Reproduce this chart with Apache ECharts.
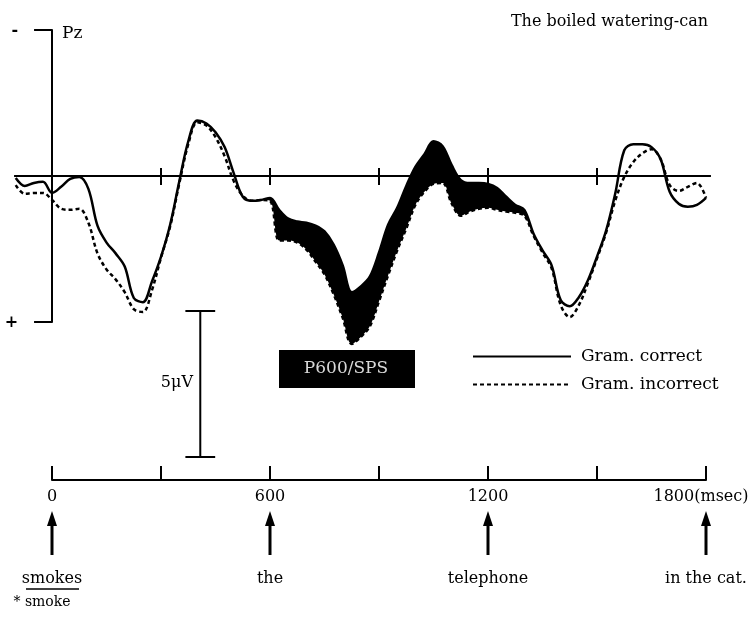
<!DOCTYPE html>
<html><head><meta charset="utf-8">
<script src="https://cdn.jsdelivr.net/npm/echarts@6/dist/echarts.min.js"></script>
<style>html,body{margin:0;padding:0;background:#fff}#c{width:753px;height:617px}</style>
</head><body><div id="c"></div>
<script>
// time points (ms)
const times = [-100,-75,-50,-25,0,25,50,75,100,125,150,175,200,225,250,275,300,325,350,375,400,425,450,475,500,525,550,575,600,625,650,675,700,725,750,775,800,825,850,875,900,925,950,975,1000,1025,1050,1075,1100,1125,1150,1175,1200,1225,1250,1275,1300,1325,1350,1375,1400,1425,1450,1475,1500,1525,1550,1575,1600,1625,1650,1675,1700,1725,1750,1775,1800];
// ERP amplitude (µV, negative up)
const correct = [0.07,0.34,0.24,0.2,0.58,0.37,0.1,0.03,0.44,1.7,2.28,2.65,3.1,4.18,4.32,3.61,2.76,1.67,0.2,-1.19,-1.9,-1.8,-1.5,-0.99,-0.1,0.71,0.85,0.82,0.75,1.16,1.46,1.56,1.6,1.7,1.9,2.35,3.06,3.98,3.78,3.44,2.62,1.67,1.09,0.34,-0.31,-0.75,-1.19,-1.02,-0.37,0.14,0.24,0.24,0.27,0.41,0.71,0.99,1.16,1.97,2.55,3.06,4.25,4.46,4.15,3.57,2.76,1.87,0.61,-0.88,-1.09,-1.09,-0.99,-0.58,0.54,0.95,1.05,0.99,0.75];
const incorrect = [0.31,0.61,0.58,0.58,0.82,1.12,1.16,1.12,1.6,2.65,3.2,3.54,3.98,4.56,4.66,3.91,2.79,1.73,0.27,-1.09,-1.84,-1.73,-1.33,-0.68,0.17,0.68,0.85,0.82,0.85,2.21,2.21,2.28,2.52,2.93,3.37,4.05,4.86,5.75,5.51,5.14,4.29,3.4,2.55,1.8,0.99,0.54,0.27,0.24,0.95,1.36,1.22,1.12,1.09,1.16,1.22,1.26,1.36,2.04,2.62,3.16,4.42,4.83,4.42,3.67,2.82,1.94,0.85,0.03,-0.48,-0.78,-0.92,-0.58,0.31,0.51,0.37,0.24,0.75];
// P600/SPS shaded effect window (ms)
const effectWindow = [525, 1325];
// time axis ticks and labels
const baselineTicks = [300,600,900,1200,1500];
const timeLabels = [0,600,1200,1800];
// amplitude axis end marks
const ampMarks = [-5, 5];
const ampMarkLabels = ['-', '+'];
// word onsets
const wordOnsets = [0,600,1200,1800];
const words = ['smokes','the','telephone','in the cat.'];
const wordsAlt = ['* smoke','','',''];
// amplitude scale bar (µV)
const scaleBarValue = 5;
const scaleBarStart = 4.62;
const scaleBarTime = 408;
const scaleBarCap = 41;

const FONT = "'DejaVu Serif','Liberation Serif',serif";

const corrData = times.map((t,i)=>[t, correct[i]]);
const incData = times.map((t,i)=>[t, incorrect[i]]);
// stacked fill (value first so that stacking happens on the amplitude dimension)
const fillBase = [], fillDiff = [];
times.forEach((t,i)=>{
  if (t >= effectWindow[0] && t <= effectWindow[1]) {
    fillBase.push([correct[i], t]);
    fillDiff.push([Math.max(0, incorrect[i]-correct[i]), t]);
  }
});
const sb0 = scaleBarStart, sb1 = scaleBarStart + scaleBarValue;
const scaleBarData = [
  [scaleBarTime-scaleBarCap, sb0],[scaleBarTime+scaleBarCap, sb0],[scaleBarTime, sb0],
  [scaleBarTime, sb1],[scaleBarTime-scaleBarCap, sb1],[scaleBarTime+scaleBarCap, sb1]
];

const chart = echarts.init(document.getElementById('c'), null, {renderer:'canvas'});
const SM = 0.35;
chart.setOption({
  animation: false,
  backgroundColor: '#fff',
  title: {
    text: 'The boiled watering-can', right: 40, top: 9,
    textStyle: {fontFamily: FONT, fontSize: 16, fontWeight: 'normal', color: '#000'}
  },
  legend: {
    data: ['Gram. correct','Gram. incorrect'],
    orient: 'vertical', left: 467, top: 343,
    itemWidth: 98, itemHeight: 14, itemGap: 11, selectedMode: false,
    itemStyle: {color: 'rgba(0,0,0,0)', borderWidth: 0, opacity: 0},
    textStyle: {fontFamily: FONT, fontSize: 17, color: '#000', padding: [0,0,0,5]}
  },
  grid: [
    {left: 15, right: 43, top: 30, height: 292, outerBoundsMode: 'none'},
    {left: 52, right: 47, top: 470, height: 10, outerBoundsMode: 'none'}
  ],
  xAxis: [
    {type:'value', gridIndex:0, min:-102, max:1811,
     axisLine:{onZero:true, lineStyle:{color:'#000', width:2}},
     axisTick:{show:true, customValues: baselineTicks, length:9, lineStyle:{color:'#000', width:2}},
     axisLabel:{show:false}, splitLine:{show:false}},
    {type:'value', gridIndex:0, position:'top', min:-102, max:1811,
     axisLine:{onZero:true, onZeroAxisIndex:1, lineStyle:{color:'#000', width:2}},
     axisTick:{show:true, customValues: baselineTicks, length:8, lineStyle:{color:'#000', width:2}},
     axisLabel:{show:false}, splitLine:{show:false}},
    {type:'value', gridIndex:1, min:0, max:1800, interval:300,
     axisLine:{lineStyle:{color:'#000', width:2}},
     axisTick:{inside:true, length:14, lineStyle:{color:'#000', width:2}},
     axisLabel:{customValues: timeLabels, margin:9, fontFamily:FONT, fontSize:16, color:'#000',
       formatter: v => v === 1800 ? '{u|1800(msec)}' : String(v),
       rich:{u:{fontFamily:FONT, fontSize:16, color:'#000', padding:[0,10,0,0]}}},
     splitLine:{show:false}}
  ],
  yAxis: [
    {type:'value', gridIndex:0, min:-5, max:5, inverse:true,
     axisLine:{show:true, onZero:true, lineStyle:{color:'#000', width:2}},
     axisTick:{show:true, customValues: ampMarks, length:18, lineStyle:{color:'#000', width:2}},
     axisLabel:{show:false},
     splitLine:{show:false}},
    {type:'value', gridIndex:0, min:-5, max:5, inverse:true, show:false},
    {type:'value', gridIndex:1, min:0, max:1, show:false}
  ],
  graphic: [
    {type:'text', x: 62, y: 34, style:{text:'Pz', font:'17px ' + FONT, fill:'#000', verticalAlign:'middle'}},
    {type:'text', x: 193, y: 383, style:{text:'5μV', font:'16px ' + FONT, fill:'#000', align:'right', verticalAlign:'middle'}},
    {type:'rect', x: 279, y: 350, shape:{width:136, height:38}, style:{fill:'#000'}},
    {type:'text', x: 346, y: 369, style:{text:'P600/SPS', font:'17px ' + FONT, fill:'#d8d8d8', align:'center', verticalAlign:'middle'}}
  ],
  series: [
    {name:'fillBase', type:'line', xAxisIndex:0, yAxisIndex:0, data: fillBase, encode:{x:1, y:0},
     stack:'eff', stackStrategy:'all',
     smooth:SM, symbol:'none', lineStyle:{opacity:0}, silent:true, clip:false, z:1},
    {name:'fillDiff', type:'line', xAxisIndex:0, yAxisIndex:0, data: fillDiff, encode:{x:1, y:0},
     stack:'eff', stackStrategy:'all',
     smooth:SM, symbol:'none', lineStyle:{opacity:0}, areaStyle:{color:'#000', opacity:1}, silent:true, clip:false, z:1},
    {name:'Gram. correct', type:'line', xAxisIndex:0, yAxisIndex:0, data: corrData,
     smooth:SM, symbol:'none', clip:false, z:3,
     lineStyle:{color:'#000', width:2.5}, itemStyle:{color:'#000'}},
    {name:'Gram. incorrect', type:'line', xAxisIndex:0, yAxisIndex:0, data: incData,
     smooth:SM, symbol:'none', clip:false, z:3,
     lineStyle:{color:'#000', width:2.5, type:[4,3]}, itemStyle:{color:'#000'}},
    {name:'scaleBar', type:'line', xAxisIndex:0, yAxisIndex:0, data: scaleBarData,
     symbol:'none', clip:false, silent:true, lineStyle:{color:'#000', width:2}},
    {name:'ampMarks', type:'custom', xAxisIndex:0, yAxisIndex:0, clip:false, silent:true,
     data: ampMarks.map(v=>[0, v]),
     encode:{x:0, y:1},
     renderItem: function(params, api){
       const p = api.coord([0, api.value(1)]);
       return {type:'text', x: p[0]-34, y: p[1]+1,
         style:{text: ampMarkLabels[params.dataIndex], font:'bold 16px ' + FONT, fill:'#000', align:'right', verticalAlign:'middle'}};
     }},
    {name:'words', type:'custom', xAxisIndex:2, yAxisIndex:2, clip:false, silent:true,
     data: wordOnsets.map((t,i)=>[t,0]),
     encode:{x:0, y:1},
     renderItem: function(params, api){
       const p = api.coord([api.value(0), 0]);
       const x = p[0], y0 = p[1];
       const i = params.dataIndex;
       const children = [
         {type:'polygon', shape:{points:[[x, y0+31],[x-5, y0+46],[x+5, y0+46]]}, style:{fill:'#000'}},
         {type:'line', shape:{x1:x, y1:y0+44, x2:x, y2:y0+75}, style:{stroke:'#000', lineWidth:3}},
         {type:'text', x:x, y:y0+99, style:{text:words[i], font:'16px ' + FONT, fill:'#000', align:'center', verticalAlign:'middle'}}
       ];
       if (wordsAlt[i]) {
         children.push({type:'line', shape:{x1:x-26, y1:y0+109, x2:x+27, y2:y0+109}, style:{stroke:'#000', lineWidth:1.5}});
         children.push({type:'text', x:x-10, y:y0+122, style:{text:wordsAlt[i], font:'14px ' + FONT, fill:'#000', align:'center', verticalAlign:'middle'}});
       }
       return {type:'group', children: children};
     }}
  ]
});
</script></body></html>
